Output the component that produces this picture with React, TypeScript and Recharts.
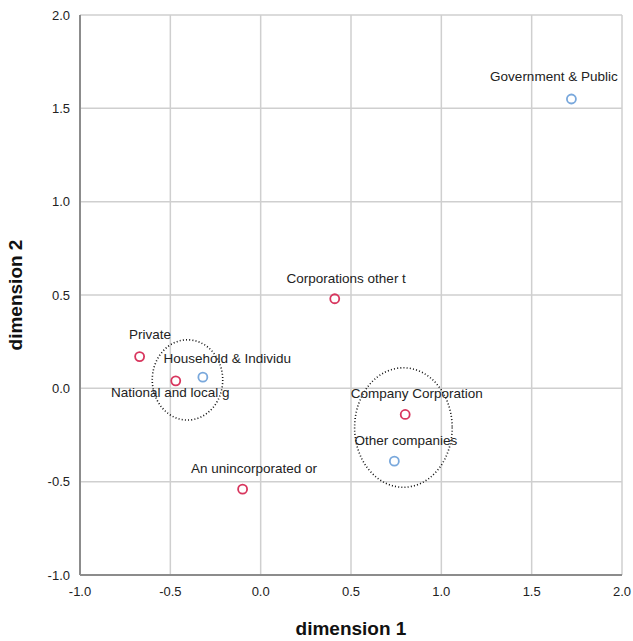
import React from "react";
import {
  ScatterChart,
  Scatter,
  XAxis,
  YAxis,
  CartesianGrid,
  ReferenceArea,
  LabelList,
} from "recharts";

type Pt = { name: string; x: number; y: number };

const xTicks = [-1.0, -0.5, 0.0, 0.5, 1.0, 1.5, 2.0];
const yTicks = [-1.0, -0.5, 0.0, 0.5, 1.0, 1.5, 2.0];

// categories of the first variable (red)
const redPoints: Pt[] = [
  { name: "Corporations other t", x: 0.41, y: 0.48 },
  { name: "Private", x: -0.67, y: 0.17 },
  { name: "National and local g", x: -0.47, y: 0.04 },
  { name: "Company Corporation", x: 0.8, y: -0.14 },
  { name: "An unincorporated or", x: -0.1, y: -0.54 },
];

// categories of the second variable (blue)
const bluePoints: Pt[] = [
  { name: "Government & Public", x: 1.72, y: 1.55 },
  { name: "Household & Individu", x: -0.32, y: 0.06 },
  { name: "Other companies", x: 0.74, y: -0.39 },
];

// dotted groupings [x1, x2, y1, y2]
const groups = [
  [-0.6, -0.21, -0.17, 0.26],
  [0.52, 1.06, -0.53, 0.11],
];

// label offsets so they sit where SPSS put them
const labelShift: Record<string, [number, number]> = {
  "Government & Public": [-13, -18],
  "Household & Individu": [29, -14],
  "National and local g": [-1, 16],
  Private: [15, -18],
};

const FONT = "'Liberation Sans', Arial, sans-serif";

const PointLabel = (props: any) => {
  const { x, y, value } = props;
  const [dx, dy] = labelShift[value] || [16, -16];
  return (
    <text
      x={x + dx}
      y={y + dy}
      textAnchor="middle"
      dominantBaseline="central"
      fontSize={13.5}
      fontFamily={FONT}
      fill="#222"
    >
      {value}
    </text>
  );
};

const Ring = (color: string) => (props: any) => (
  <circle
    cx={props.cx}
    cy={props.cy}
    r={4.5}
    fill="none"
    stroke={color}
    strokeWidth={1.8}
  />
);

const Ellipse = (props: any) => {
  const { x, y, width, height } = props;
  return (
    <ellipse
      cx={x + width / 2}
      cy={y + height / 2}
      rx={width / 2}
      ry={height / 2}
      fill="none"
      stroke="#111"
      strokeWidth={1.6}
      strokeDasharray="1 2.2"
    />
  );
};

export default function App() {
  return (
    <div style={{ position: "absolute", left: 0, top: 0, background: "#fff" }}>
      <ScatterChart
        width={633}
        height={641}
        margin={{ top: 15, right: 11, bottom: 0, left: 0 }}
      >
        <CartesianGrid stroke="#cfcfcf" strokeWidth={1.5} />
        <XAxis
          type="number"
          dataKey="x"
          domain={[-1, 2]}
          ticks={xTicks}
          tickFormatter={(v: number) => v.toFixed(1)}
          height={66}
          tickLine={false}
          axisLine={{ stroke: "#8c8c8c", strokeWidth: 2 }}
          tick={{ fontSize: 13, fill: "#222", fontFamily: FONT }}
          tickMargin={6}
          label={{
            value: "dimension 1",
            position: "insideBottom",
            offset: 6,
            style: {
              fontSize: 19,
              fontWeight: "bold",
              fill: "#111",
              fontFamily: FONT,
            },
          }}
        />
        <YAxis
          type="number"
          dataKey="y"
          domain={[-1, 2]}
          ticks={yTicks}
          tickFormatter={(v: number) => v.toFixed(1)}
          width={80}
          tickLine={false}
          axisLine={{ stroke: "#8c8c8c", strokeWidth: 2 }}
          tick={{ fontSize: 13, fill: "#222", fontFamily: FONT }}
          tickMargin={4}
          label={{
            value: "dimension 2",
            angle: -90,
            position: "insideLeft",
            offset: 15,
            style: {
              fontSize: 19,
              fontWeight: "bold",
              fill: "#111",
              fontFamily: FONT,
              textAnchor: "middle",
            },
          }}
        />
        {groups.map((g, i) => (
          <ReferenceArea
            key={i}
            x1={g[0]}
            x2={g[1]}
            y1={g[2]}
            y2={g[3]}
            shape={Ellipse}
            ifOverflow="visible"
          />
        ))}
        <Scatter
          data={redPoints}
          shape={Ring("#d8365e")}
          isAnimationActive={false}
        >
          <LabelList dataKey="name" content={PointLabel} />
        </Scatter>
        <Scatter
          data={bluePoints}
          shape={Ring("#79a8dc")}
          isAnimationActive={false}
        >
          <LabelList dataKey="name" content={PointLabel} />
        </Scatter>
      </ScatterChart>
    </div>
  );
}
